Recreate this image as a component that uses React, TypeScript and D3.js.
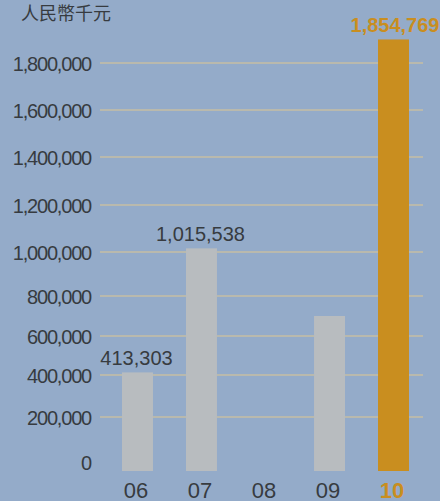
import * as d3 from "d3";

const WIDTH = 440;
const HEIGHT = 501;
const BG = "#94abc9";
const GRID = "#dec791";
const TEXT = "#373b40";
const GREY_BAR = "#b8bcbf";
const ORANGE = "#c98e1f";
const LATIN = "'Liberation Sans', Arial, Helvetica, sans-serif";
const CJK = "'Noto Sans CJK TC', 'Noto Sans CJK SC', sans-serif";

// data
const years = ["06", "07", "08", "09", "10"];
const revenue: (number | null)[] = [413303, 1015538, null, 700000, 1854769];
const showValue = [true, true, false, false, true];
const highlight = [false, false, false, false, true];
const yTicks = [0, 200000, 400000, 600000, 800000, 1000000, 1200000, 1400000, 1600000, 1800000];
const unitLabel = "人民幣千元";

// the printed axis is not evenly spaced, so the scale follows the gridlines
const TICK_Y = [462, 417, 375, 336, 296, 252, 205, 157, 110, 63];
const TOP_VALUE = 1900000;
const TOP_Y = 20;
const BASE_Y = 471;
const GRID_X0 = 100;
const GRID_X1 = 423;

export default function App() {
  const x = d3.scaleBand<string>().domain(years).range([90, 441]).paddingInner(0.516).paddingOuter(0.5);
  const y = d3.scaleLinear().domain([...yTicks, TOP_VALUE]).range([...TICK_Y, TOP_Y]);
  const fmt = d3.format(",");

  return (
    <svg
      width={WIDTH}
      height={HEIGHT}
      viewBox={`0 0 ${WIDTH} ${HEIGHT}`}
      style={{ position: "absolute", left: 0, top: 0, display: "block" }}
    >
      <rect x="0" y="0" width={WIDTH} height={HEIGHT} fill={BG} />
      <text x="21" y="20" fontFamily={CJK} fontSize="18" fill={TEXT}>
        {unitLabel}
      </text>
      {yTicks.map((tick) => (
        <g key={tick}>
          {tick > 0 && <line x1={GRID_X0} x2={GRID_X1} y1={y(tick)} y2={y(tick)} stroke={GRID} strokeWidth="1.2" />}
          <text x="91" y={y(tick) + 7.5} textAnchor="end" fontFamily={LATIN} fontSize="20" letterSpacing="-1.2" fill={TEXT}>
            {fmt(tick)}
          </text>
        </g>
      ))}
      {years.map((year, i) => {
        const value = revenue[i];
        const cx = (x(year) ?? 0) + x.bandwidth() / 2;
        const color = highlight[i] ? ORANGE : GREY_BAR;
        return (
          <g key={year}>
            {value != null && (
              <rect x={x(year)} y={y(value)} width={x.bandwidth()} height={BASE_Y - y(value)} fill={color} />
            )}
            {value != null && showValue[i] && (
              <text
                x={highlight[i] ? cx + 1.5 : cx - 1}
                y={y(value) - 7.5}
                textAnchor="middle"
                fontFamily={LATIN}
                fontSize="20"
                fontWeight={highlight[i] ? 700 : 400}
                fill={highlight[i] ? ORANGE : TEXT}
              >
                {fmt(value)}
              </text>
            )}
            <text
              x={cx - 1.5}
              y="497.5"
              textAnchor="middle"
              fontFamily={LATIN}
              fontSize="22"
              fontWeight={highlight[i] ? 700 : 400}
              fill={highlight[i] ? ORANGE : TEXT}
            >
              {year}
            </text>
          </g>
        );
      })}
    </svg>
  );
}
